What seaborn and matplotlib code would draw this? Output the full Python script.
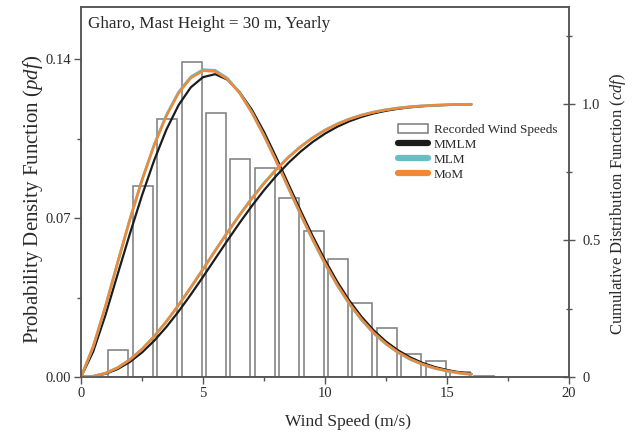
import numpy as np
import pandas as pd
import matplotlib
matplotlib.use("Agg")
import matplotlib.pyplot as plt
from matplotlib.patches import Patch
from matplotlib.lines import Line2D
from matplotlib.ticker import MultipleLocator, FixedLocator
import seaborn as sns

sns.set_style("ticks")
plt.rcParams['font.family'] = ['Liberation Serif', 'DejaVu Serif']
plt.rcParams['mathtext.fontset'] = 'custom'
plt.rcParams['mathtext.rm'] = 'Liberation Serif'
plt.rcParams['mathtext.it'] = 'Liberation Serif:italic'

# ---------------- data ----------------
bin_start = [1, 2, 3, 4, 5, 6, 7, 8, 9, 10, 11, 12, 13, 14, 15, 16]
recorded_pdf = [0.0119, 0.0841, 0.1135, 0.1389, 0.1164, 0.0961, 0.0919, 0.0790,
                0.0643, 0.0522, 0.0324, 0.0217, 0.0101, 0.0072, 0.0023, 0.0003]

wind_speed = [0, 0.5, 1, 1.5, 2, 2.5, 3, 3.5, 4, 4.5, 5, 5.5, 6, 6.5, 7, 7.5, 8,
              8.5, 9, 9.5, 10, 10.5, 11, 11.5, 12, 12.5, 13, 13.5, 14, 14.5, 15, 15.5, 16]

pdf_mmlm = [0, 0.0112, 0.0272, 0.0452, 0.0630, 0.0800, 0.0955, 0.1090, 0.1198, 0.1276,
            0.1321, 0.1334, 0.1310, 0.1255, 0.1178, 0.1080, 0.0968, 0.0850, 0.0733,
            0.0620, 0.0515, 0.0420, 0.0336, 0.0265, 0.0205, 0.0156, 0.0117, 0.0086,
            0.0062, 0.0044, 0.0031, 0.0021, 0.0014]
pdf_mlm = [0, 0.0132, 0.0308, 0.0502, 0.0692, 0.0867, 0.1023, 0.1154, 0.1255, 0.1322,
           0.1354, 0.1351, 0.1316, 0.1253, 0.1167, 0.1064, 0.0951, 0.0833, 0.0716,
           0.0603, 0.0498, 0.0404, 0.0321, 0.0251, 0.0192, 0.0145, 0.0107, 0.0077,
           0.0055, 0.0038, 0.0026, 0.0017, 0.0011]
pdf_mom = [0, 0.0136, 0.0312, 0.0505, 0.0694, 0.0868, 0.1022, 0.1151, 0.1251, 0.1317,
           0.1349, 0.1346, 0.1312, 0.1250, 0.1165, 0.1063, 0.0951, 0.0834, 0.0717,
           0.0605, 0.0501, 0.0407, 0.0324, 0.0254, 0.0195, 0.0147, 0.0109, 0.0079,
           0.0056, 0.0039, 0.0027, 0.0018, 0.0012]

cdf_mmlm = [0, 0.0024, 0.0116, 0.0289, 0.0550, 0.0898, 0.1329, 0.1834, 0.2402, 0.3019,
            0.3667, 0.4332, 0.4997, 0.5644, 0.6262, 0.6839, 0.7366, 0.7839, 0.8254,
            0.8611, 0.8913, 0.9163, 0.9366, 0.9527, 0.9654, 0.9750, 0.9823, 0.9877,
            0.9916, 0.9944, 0.9963, 0.9976, 0.9985]
cdf_mlm = [0, 0.0029, 0.0138, 0.0338, 0.0632, 0.1018, 0.1489, 0.2033, 0.2636, 0.3281,
           0.3951, 0.4629, 0.5296, 0.5938, 0.6543, 0.7101, 0.7605, 0.8050, 0.8438,
           0.8767, 0.9043, 0.9269, 0.9450, 0.9593, 0.9704, 0.9789, 0.9851, 0.9897,
           0.9930, 0.9953, 0.9969, 0.9980, 0.9987]
cdf_mom = [0, 0.0030, 0.0140, 0.0341, 0.0635, 0.1021, 0.1491, 0.2034, 0.2635, 0.3278,
           0.3946, 0.4622, 0.5288, 0.5929, 0.6533, 0.7091, 0.7595, 0.8041, 0.8429,
           0.8759, 0.9035, 0.9262, 0.9444, 0.9588, 0.9700, 0.9785, 0.9848, 0.9895,
           0.9928, 0.9952, 0.9968, 0.9979, 0.9987]

methods = ["MMLM", "MLM", "MoM"]
colors = {"MMLM": "#1c1c1c", "MLM": "#62c1c3", "MoM": "#f0883a"}
widths = {"MMLM": 1.6, "MLM": 2.0, "MoM": 1.8}

x_ticks = [0, 5, 10, 15, 20]
pdf_ticks = [0.0, 0.07, 0.14]
cdf_ticks = [0, 0.5, 1.0]

# ---------------- frames ----------------
bars = pd.DataFrame({"center": [b + 0.53 for b in bin_start], "pdf": recorded_pdf})
edges = [b + 0.03 for b in bin_start] + [bin_start[-1] + 1.03]

curves = pd.concat([
    pd.DataFrame({"speed": wind_speed, "pdf": p, "cdf": c, "method": m})
    for m, p, c in zip(methods, [pdf_mmlm, pdf_mlm, pdf_mom], [cdf_mmlm, cdf_mlm, cdf_mom])
], ignore_index=True)

# ---------------- figure ----------------
fig = plt.figure(figsize=(6.44, 4.33), dpi=100)
ax = fig.add_axes([81 / 644, 1 - 377 / 433, 488 / 644, 370 / 433])
ax2 = ax.twinx()

sns.histplot(data=bars, x="center", weights="pdf", bins=edges, shrink=0.82,
             fill=False, element="bars", color="#858585", linewidth=1.2, ax=ax)

for m in methods:
    sub = curves[curves["method"] == m]
    sns.lineplot(data=sub, x="speed", y="pdf", color=colors[m], linewidth=widths[m],
                 legend=False, ax=ax, sort=True)
    sns.lineplot(data=sub, x="speed", y="cdf", color=colors[m], linewidth=widths[m],
                 legend=False, ax=ax2, sort=True)

ax.set_xlim(0, 20)
ax.set_ylim(0, 0.163)
ax2.set_ylim(0, 1.355)

spine_c = "#555555"
for a in (ax, ax2):
    for s in a.spines.values():
        s.set_visible(True)
        s.set_color(spine_c)
        s.set_linewidth(1.1)

ax.set_xticks(x_ticks)
ax.set_xticklabels([str(t) for t in x_ticks])
ax.xaxis.set_minor_locator(MultipleLocator(2.5))
ax.set_yticks(pdf_ticks)
ax.set_yticklabels([f"{t:.2f}" for t in pdf_ticks])
ax.yaxis.set_minor_locator(FixedLocator([0.035, 0.105]))
ax2.set_yticks(cdf_ticks)
ax2.set_yticklabels(["0", "0.5", "1.0"])
ax2.yaxis.set_minor_locator(FixedLocator([0.25, 0.75, 1.25]))

ax.tick_params(axis="both", which="major", direction="out", length=5, width=1.0,
               color=spine_c, labelsize=10.5, labelcolor="#2a2a2a", pad=2)
ax.tick_params(axis="both", which="minor", direction="out", length=3, width=1.0, color=spine_c)
ax2.tick_params(axis="y", which="major", direction="inout", length=9, width=1.0,
                color=spine_c, labelsize=10.5, labelcolor="#2a2a2a", pad=5)
ax2.tick_params(axis="y", which="minor", direction="inout", length=5, width=1.0, color=spine_c)

ax.set_xlabel("Wind Speed (m/s)", fontsize=12.5, color="#2a2a2a", ha="center", va="center")
ax.xaxis.set_label_coords(0.548, -0.121)
ax.set_ylabel(r"Probability Density Function ($\it{pdf}$)", fontsize=15,
              color="#2a2a2a", va="center")
ax.yaxis.set_label_coords(-0.098, 0.481)
ax2.set_ylabel(r"Cumulative Distribution Function ($\it{cdf}$)", fontsize=12,
               color="#2a2a2a", va="center", rotation=90)
ax2.yaxis.set_label_coords(1.100, 0.468)

ax.text(0.0143, 0.954, "Gharo, Mast Height = 30 m, Yearly", transform=ax.transAxes,
        ha="left", va="center", fontsize=12.3, color="#2a2a2a")

handles = [Patch(facecolor="white", edgecolor="#858585", linewidth=1.2, label="Recorded Wind Speeds")]
handles += [Line2D([0], [0], color=colors[m], lw=4.5, label=m) for m in methods]
ax.legend(handles=handles, loc="upper left", bbox_to_anchor=(0.6496, 0.684),
          frameon=False, fontsize=9.5, handlelength=2.3, handletextpad=0.4,
          labelspacing=0.2, borderpad=0, borderaxespad=0, labelcolor="#2a2a2a")

fig.savefig("out.png", dpi=100)
